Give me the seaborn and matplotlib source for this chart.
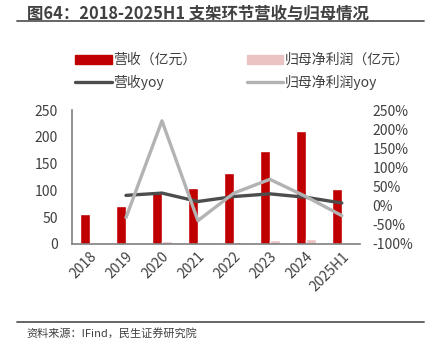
import numpy as np
import pandas as pd
import matplotlib
matplotlib.use('Agg')
import matplotlib.pyplot as plt
import seaborn as sns
from matplotlib.patches import Patch
from matplotlib.lines import Line2D
from matplotlib.ticker import FuncFormatter

years = ['2018', '2019', '2020', '2021', '2022', '2023', '2024', '2025H1']
revenue = [55, 70, 95, 104, 132, 174, 211, 102]
net_profit = [2.5, 2, 6, 4, 4, 7.5, 10, 4]
revenue_yoy = [None, 27, 33, 11, 24, 31, 22, 7]
profit_yoy = [None, -31, 222, -39, 33, 69, 24, -26]

sns.set_style('white')
plt.rcParams['font.family'] = ['Noto Sans CJK SC', 'DejaVu Sans']

red = '#C00000'
pink = '#EBC3C3'
dark = '#4D4D4D'
grey = '#B3B3B3'
txt = '#404040'

df = pd.DataFrame({
    'year': years * 2,
    'value': revenue + net_profit,
    'kind': ['营收（亿元）'] * len(years) + ['归母净利润（亿元）'] * len(years),
})

fig = plt.figure(figsize=(4.34, 3.53), dpi=100)
ax = fig.add_axes([0.166, 0.309, 0.663, 0.379])
sns.barplot(data=df, x='year', y='value', hue='kind', palette=[red, pink],
            width=0.56, dodge=True, ax=ax, legend=False, saturation=1)
ax.set_xlim(-0.5, 7.5)
ax.set_ylim(0, 250)
ax.set_yticks(range(0, 251, 50))
ax.set_xlabel('')
ax.set_ylabel('')
for s in ['top', 'right']:
    ax.spines[s].set_visible(False)
ax.spines['left'].set_color('#808080')
ax.spines['bottom'].set_color('#808080')
ax.spines['left'].set_linewidth(1.2)
ax.spines['bottom'].set_linewidth(1.2)
ax.tick_params(axis='y', length=0, pad=10, labelsize=10, labelcolor=txt)
ax.tick_params(axis='x', length=0, pad=4, labelsize=10, labelcolor=txt)
plt.setp(ax.get_xticklabels(), rotation=45, ha='right', rotation_mode='anchor')

ax2 = ax.twinx()
pos = np.arange(1, len(years))
sns.lineplot(x=pos, y=revenue_yoy[1:], color=dark, linewidth=2.4, ax=ax2)
sns.lineplot(x=pos, y=profit_yoy[1:], color=grey, linewidth=2.4, ax=ax2)
ax2.set_ylim(-100, 250)
ax2.set_yticks(range(-100, 251, 50))
ax2.yaxis.set_major_formatter(FuncFormatter(lambda v, p: f'{v:.0f}%'))
for s in ['top', 'right', 'left', 'bottom']:
    ax2.spines[s].set_visible(False)
ax2.tick_params(axis='y', length=0, pad=9, labelsize=10, labelcolor=txt)
ax2.set_xlim(-0.5, 7.5)

handles = [Patch(color=red), Line2D([], [], color=dark, lw=2.4),
           Patch(color=pink), Line2D([], [], color=grey, lw=2.4)]
labels = ['营收（亿元）', '营收yoy', '归母净利润（亿元）', '归母净利润yoy']
fig.legend(handles, labels, ncol=2, loc='upper left', bbox_to_anchor=(0.145, 0.885),
           frameon=False, fontsize=10, labelcolor=txt, handlelength=2.6,
           handleheight=0.6, handletextpad=0.15, columnspacing=3.6, labelspacing=0.55)

fig.text(0.062, 0.962, '图64：2018-2025H1 支架环节营收与归母情况', fontsize=11.8,
         fontweight='bold', color=txt, va='center')
fig.add_artist(Line2D([0.04, 0.977], [0.94, 0.94], color='#595959', lw=1.3))
fig.add_artist(Line2D([0.04, 0.977], [0.088, 0.088], color='#595959', lw=1.3))
fig.text(0.062, 0.057, '资料来源：IFind，民生证券研究院', fontsize=8, color=txt, va='center')

fig.savefig('out.png', dpi=100)
